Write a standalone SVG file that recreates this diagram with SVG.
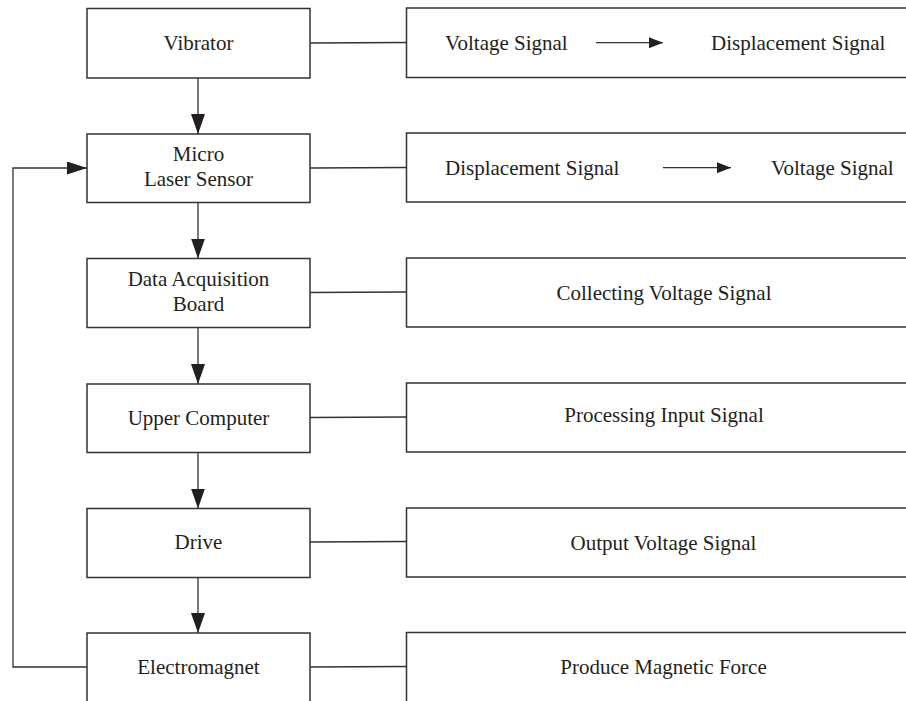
<svg xmlns="http://www.w3.org/2000/svg" width="906" height="701" viewBox="0 0 906 701">
  <style>
    .box { fill: #ffffff; stroke: #333333; stroke-width: 1.5; }
    .wire { fill: none; stroke: #333333; stroke-width: 1.3; }
    .label { font-family: "Liberation Serif", "Times New Roman", serif; font-size: 21px; fill: #231f20; text-anchor: middle; }
    .start { text-anchor: start; }
  </style>
  <defs>
    <!-- all heads point along +x; orient="auto" turns them with the line -->
    <marker id="headBig" markerWidth="20" markerHeight="14" refX="20" refY="7" orient="auto" markerUnits="userSpaceOnUse" viewBox="0 0 20 14">
      <path d="M0,0 L20,7 L0,14 Z" fill="#231f20"/>
    </marker>
    <marker id="headSide" markerWidth="20" markerHeight="13" refX="20" refY="6.5" orient="auto" markerUnits="userSpaceOnUse" viewBox="0 0 20 13">
      <path d="M0,0 L20,6.5 L0,13 Z" fill="#231f20"/>
    </marker>
    <marker id="headSmall" markerWidth="14" markerHeight="11" refX="14" refY="5.5" orient="auto" markerUnits="userSpaceOnUse" viewBox="0 0 14 11">
      <path d="M0,0 L14,5.5 L0,11 Z" fill="#231f20"/>
    </marker>
  </defs>

  <rect width="906" height="701" fill="#ffffff"/>

  <!-- process blocks -->
  <g id="vibrator">
    <rect class="box" x="87" y="8.5" width="223" height="69.5"/>
    <text class="label" x="198.5" y="49.5">Vibrator</text>
  </g>
  <g id="micro-laser-sensor">
    <rect class="box" x="87" y="134" width="223" height="68.5"/>
    <text class="label" x="198.5" y="161">Micro</text>
    <text class="label" x="198.5" y="186">Laser Sensor</text>
  </g>
  <g id="data-acquisition-board">
    <rect class="box" x="87" y="258.5" width="223" height="69"/>
    <text class="label" x="198.5" y="286">Data Acquisition</text>
    <text class="label" x="198.5" y="311">Board</text>
  </g>
  <g id="upper-computer">
    <rect class="box" x="87" y="384" width="223" height="68.5"/>
    <text class="label" x="198.5" y="425">Upper Computer</text>
  </g>
  <g id="drive">
    <rect class="box" x="87" y="508.5" width="223" height="69"/>
    <text class="label" x="198.5" y="549">Drive</text>
  </g>
  <g id="electromagnet">
    <rect class="box" x="87" y="633" width="223" height="80"/>
    <text class="label" x="198.5" y="673.5">Electromagnet</text>
  </g>

  <!-- description blocks -->
  <g id="desc-vibrator">
    <rect class="box" x="406.5" y="8" width="510" height="69.5"/>
    <text class="label start" x="445" y="50">Voltage Signal</text>
    <text class="label start" x="711" y="50">Displacement Signal</text>
  </g>
  <g id="desc-sensor">
    <rect class="box" x="406.5" y="133" width="510" height="69"/>
    <text class="label start" x="445" y="175">Displacement Signal</text>
    <text class="label start" x="771" y="175">Voltage Signal</text>
  </g>
  <g id="desc-acquisition">
    <rect class="box" x="406.5" y="258" width="510" height="69"/>
    <text class="label" x="664" y="300">Collecting Voltage Signal</text>
  </g>
  <g id="desc-computer">
    <rect class="box" x="406.5" y="383" width="510" height="69"/>
    <text class="label" x="664" y="422">Processing Input Signal</text>
  </g>
  <g id="desc-drive">
    <rect class="box" x="406.5" y="508" width="510" height="69"/>
    <text class="label" x="663.5" y="549.5">Output Voltage Signal</text>
  </g>
  <g id="desc-electromagnet">
    <rect class="box" x="406.5" y="632.5" width="510" height="80"/>
    <text class="label" x="663.5" y="674">Produce Magnetic Force</text>
  </g>

  <!-- connectors -->
  <g id="connectors">
    <!-- main chain -->
    <line class="wire" x1="198" y1="78" x2="198" y2="134" marker-end="url(#headBig)"/>
    <line class="wire" x1="198" y1="202.5" x2="198" y2="258.5" marker-end="url(#headBig)"/>
    <line class="wire" x1="198" y1="327.5" x2="198" y2="384" marker-end="url(#headBig)"/>
    <line class="wire" x1="198" y1="452.5" x2="198" y2="508.5" marker-end="url(#headBig)"/>
    <line class="wire" x1="198" y1="577.5" x2="198" y2="633" marker-end="url(#headBig)"/>
    <!-- feedback loop -->
    <polyline class="wire" points="87,667 13,667 13,168 87,168" marker-end="url(#headSide)"/>
    <!-- side links -->
    <line class="wire" x1="310" y1="43" x2="406.5" y2="42.5"/>
    <line class="wire" x1="310" y1="168" x2="406.5" y2="167.5"/>
    <line class="wire" x1="310" y1="292.5" x2="406.5" y2="292"/>
    <line class="wire" x1="310" y1="417.5" x2="406.5" y2="417"/>
    <line class="wire" x1="310" y1="542" x2="406.5" y2="541.5"/>
    <line class="wire" x1="310" y1="667" x2="406.5" y2="666.5"/>
    <!-- arrows inside the description boxes -->
    <line class="wire" x1="596" y1="42.7" x2="663" y2="42.7" marker-end="url(#headSmall)"/>
    <line class="wire" x1="663" y1="167.7" x2="731" y2="167.7" marker-end="url(#headSmall)"/>
  </g>
</svg>
